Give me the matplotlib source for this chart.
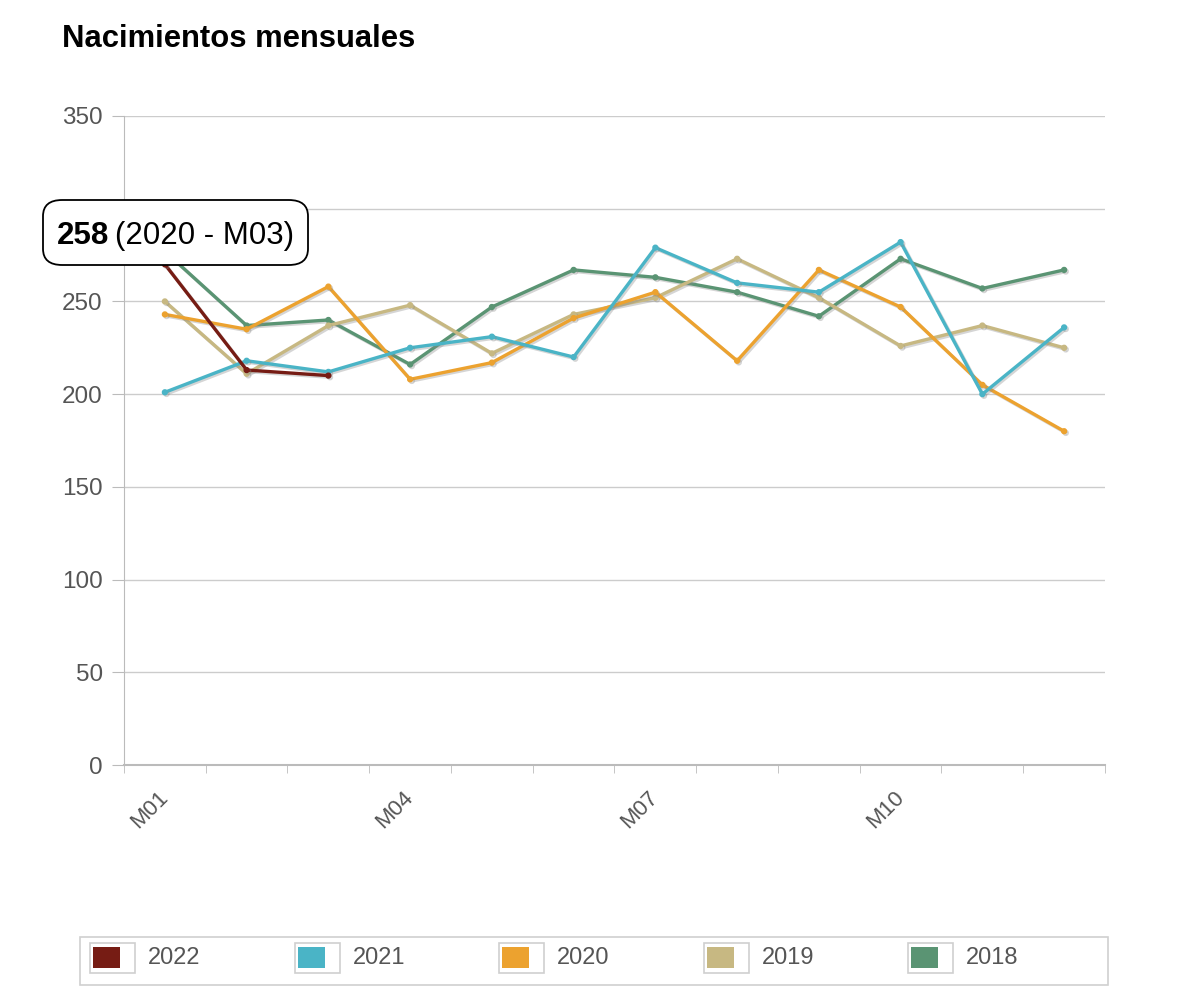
import matplotlib
matplotlib.use("Agg")
import matplotlib.pyplot as plt
import matplotlib.patheffects as pe
from matplotlib.patches import FancyBboxPatch, Rectangle
import numpy as np

plt.rcParams['font.family'] = ['Liberation Sans', 'DejaVu Sans']

months = ['M01', 'M02', 'M03', 'M04', 'M05', 'M06',
          'M07', 'M08', 'M09', 'M10', 'M11', 'M12']
years = ['2022', '2021', '2020', '2019', '2018']
colors = ['#761c14', '#4ab4c6', '#eca22f', '#c7b882', '#5a9473']

y2022 = [270, 213, 210]
y2021 = [201, 218, 212, 225, 231, 220, 279, 260, 255, 282, 200, 236]
y2020 = [243, 235, 258, 208, 217, 241, 255, 218, 267, 247, 205, 180]
y2019 = [250, 211, 237, 248, 222, 243, 252, 273, 252, 226, 237, 225]
y2018 = [277, 237, 240, 216, 247, 267, 263, 255, 242, 273, 257, 267]
series = [y2022, y2021, y2020, y2019, y2018]

W, H = 1200, 1008
fig = plt.figure(figsize=(W / 100, H / 100), dpi=100)

def fx(px):
    return px / W

def fy(py):
    return 1 - py / H

ax = fig.add_axes([fx(124), fy(765), fx(1105) - fx(124), fy(116) - fy(765)])

grid_c = '#cccccc'
axis_c = '#bbbbbb'
text_c = '#555555'

for vals, col in list(zip(series, colors))[::-1]:
    x = np.arange(len(vals))
    ax.plot(x, vals, color=col, lw=2.4, marker='o', markersize=3.5,
            solid_joinstyle='miter',
            path_effects=[pe.SimpleLineShadow(offset=(1.2, -1.2), shadow_color='#888888', alpha=0.35),
                          pe.Normal()])

ax.set_xlim(-0.5, 11.5)
ax.set_ylim(0, 350)
ax.set_yticks(np.arange(0, 351, 50))
ax.yaxis.grid(True, color=grid_c, lw=1)
ax.set_axisbelow(True)

for s in ['top', 'right']:
    ax.spines[s].set_visible(False)
ax.spines['left'].set_color(axis_c)
ax.spines['bottom'].set_color(axis_c)
ax.spines['bottom'].set_linewidth(1.5)

ax.tick_params(axis='y', length=9, color=axis_c, labelsize=17.5, labelcolor=text_c, pad=6.3)
ax.set_xticks(np.arange(-0.5, 12, 1), minor=True)
ax.set_xticks([0, 3, 6, 9])
ax.set_xticklabels([months[i] for i in [0, 3, 6, 9]])
ax.tick_params(axis='x', which='major', length=0, labelsize=16, labelcolor=text_c, pad=21)
ax.tick_params(axis='x', which='minor', length=6, color=axis_c)
for lab in ax.get_xticklabels():
    lab.set_rotation(45)
    lab.set_ha('right')
    lab.set_va('center')
    lab.set_rotation_mode('anchor')

# title
fig.text(fx(62), fy(47), 'Nacimientos mensuales', fontsize=22.3, fontweight='bold',
         color='black', ha='left', va='baseline')

# tooltip
tip = FancyBboxPatch((fx(43), fy(265)), fx(308) - fx(43), fy(200) - fy(265),
                     boxstyle='round,pad=0,rounding_size=0.016',
                     transform=fig.transFigure, facecolor='white', edgecolor='black',
                     lw=1.3, zorder=10)
fig.patches.append(tip)
t1 = fig.text(fx(57), fy(244), '258', fontsize=22.5, fontweight='bold', color='black',
              ha='left', va='baseline', zorder=11)
fig.canvas.draw()
bb = t1.get_window_extent()
fig.text(fx(bb.x1 + 6), fy(244), '(2020 - M03)', fontsize=22.5, color='black',
         ha='left', va='baseline', zorder=11)

# legend
leg = Rectangle((fx(80), fy(985)), fx(1108) - fx(80), fy(937) - fy(985),
                transform=fig.transFigure, facecolor='white', edgecolor='#d0d0d0', lw=1.2)
fig.patches.append(leg)
for i, (yr, col) in enumerate(zip(years, colors)):
    x0 = 90 + i * 204.5
    outer = Rectangle((fx(x0), fy(973)), fx(45), 30 / H, transform=fig.transFigure,
                      facecolor='white', edgecolor='#cfcfcf', lw=1.2)
    inner = Rectangle((fx(x0 + 3), fy(968)), fx(27), 21 / H, transform=fig.transFigure,
                      facecolor=col, edgecolor='none')
    fig.patches.append(outer)
    fig.patches.append(inner)
    fig.text(fx(x0 + 58), fy(958), yr, fontsize=17, color=text_c, ha='left', va='center')

fig.savefig('out.png', dpi=100)
